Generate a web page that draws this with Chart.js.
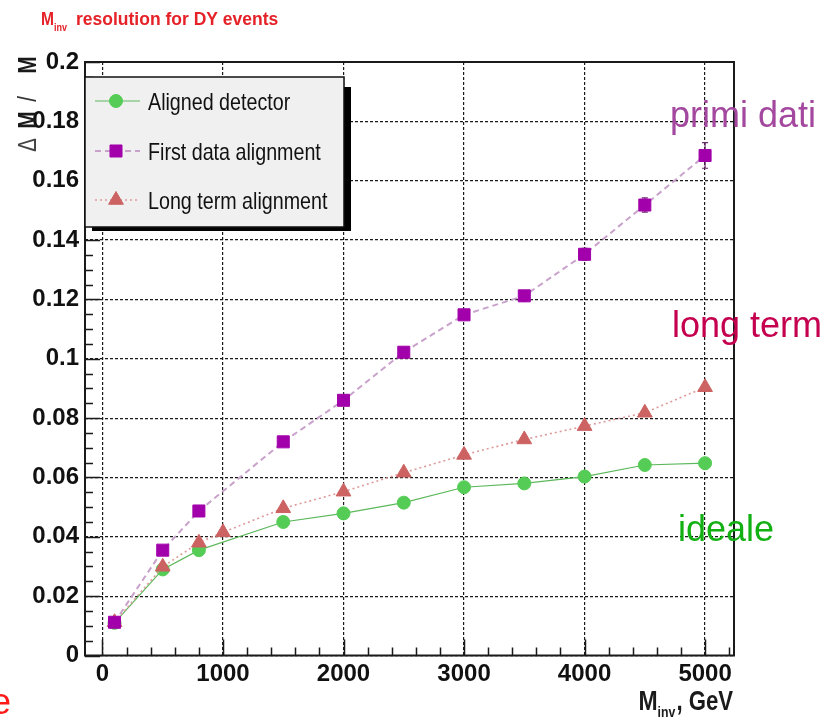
<!DOCTYPE html>
<html>
<head>
<meta charset="utf-8">
<script src="https://cdn.jsdelivr.net/npm/chart.js@4/dist/chart.umd.min.js"></script>
<style>
  html, body { margin: 0; padding: 0; background: #ffffff; }
  canvas { display: block; }
</style>
</head>
<body>
<canvas id="c" width="840" height="718"></canvas>
<script>
// Invariant mass (GeV) and relative mass resolution for each alignment scenario
const massAligned = [100, 500, 800, 1500, 2000, 2500, 3000, 3500, 4000, 4500, 5000];
const resAligned  = [0.0110, 0.0290, 0.0355, 0.0450, 0.0479, 0.0515, 0.0567, 0.0580, 0.0603, 0.0642, 0.0648];

const massFirst   = [100, 500, 800, 1500, 2000, 2500, 3000, 3500, 4000, 4500, 5000];
const resFirst    = [0.0112, 0.0355, 0.0487, 0.0720, 0.0860, 0.1022, 0.1148, 0.1212, 0.1352, 0.1518, 0.1685];
const errFirst    = [0.0006, 0.0008, 0.0010, 0.0012, 0.0013, 0.0015, 0.0016, 0.0018, 0.0020, 0.0024, 0.0043];

const massLong    = [100, 500, 800, 1000, 1500, 2000, 2500, 3000, 3500, 4000, 4500, 5000];
const resLong     = [0.0112, 0.0299, 0.0380, 0.0415, 0.0496, 0.0552, 0.0616, 0.0676, 0.0728, 0.0773, 0.0818, 0.0904];

const seriesNames = ['Aligned detector', 'First data alignment', 'Long term alignment'];

const xTickValues = [0, 1000, 2000, 3000, 4000, 5000];
const xTickLabels = ['0', '1000', '2000', '3000', '4000', '5000'];
const yTickValues = [0, 0.02, 0.04, 0.06, 0.08, 0.1, 0.12, 0.14, 0.16, 0.18, 0.2];
const yTickLabels = ['0', '0.02', '0.04', '0.06', '0.08', '0.1', '0.12', '0.14', '0.16', '0.18', '0.2'];

const NARROW = "'Liberation Sans Narrow', 'Liberation Sans', Arial, sans-serif";
const SANS = "'Liberation Sans', Arial, sans-serif";

const toPoints = (xs, ys) => xs.map((x, i) => ({ x: x, y: ys[i] }));

const styles = [
  { line: '#5cb85c', fill: '#55cc55', shape: 'circle',   radius: 6.5, dash: [],     width: 1.2 },
  { line: '#c9a2cc', fill: '#a200aa', shape: 'rect',     radius: 8.5, dash: [6, 4], width: 2   },
  { line: '#dd9a9a', fill: '#cc6262', shape: 'triangle', radius: 8.5, dash: [2, 3], width: 1.6 }
];

// Narrow face may be missing: fall back to a horizontally squeezed regular face.
let narrowAvailable = true;
(function () {
  const c = document.createElement('canvas').getContext('2d');
  c.font = "24px 'Liberation Sans Narrow', monospace";
  const a = c.measureText('Aligned detector').width;
  c.font = '24px monospace';
  const b = c.measureText('Aligned detector').width;
  narrowAvailable = Math.abs(a - b) > 0.5;
})();

function narrowText(ctx, text, x, y, size, weight, color, align) {
  ctx.save();
  ctx.fillStyle = color;
  ctx.textBaseline = 'alphabetic';
  if (narrowAvailable) {
    ctx.font = `${weight} ${size}px 'Liberation Sans Narrow'`;
    ctx.textAlign = align || 'left';
    ctx.fillText(text, x, y);
  } else {
    ctx.font = `${weight} ${size}px ${SANS}`;
    ctx.textAlign = align || 'left';
    ctx.translate(x, y);
    ctx.scale(0.82, 1);
    ctx.fillText(text, 0, 0);
  }
  ctx.restore();
}
function narrowWidth(ctx, text, size, weight) {
  ctx.save();
  let w;
  if (narrowAvailable) {
    ctx.font = `${weight} ${size}px 'Liberation Sans Narrow'`;
    w = ctx.measureText(text).width;
  } else {
    ctx.font = `${weight} ${size}px ${SANS}`;
    w = ctx.measureText(text).width * 0.82;
  }
  ctx.restore();
  return w;
}

function drawMarker(ctx, st, x, y) {
  ctx.save();
  ctx.fillStyle = st.fill;
  ctx.strokeStyle = st.fill;
  ctx.lineWidth = 1;
  ctx.setLineDash([]);
  Chart.helpers.drawPoint(ctx, { pointStyle: st.shape, radius: st.radius, borderWidth: 1, rotation: 0 }, x, y);
  ctx.restore();
}

const decorations = {
  id: 'decorations',
  beforeDatasetsDraw(chart) {
    // vertical error bars on the first-data points
    const ctx = chart.ctx, xs = chart.scales.x, ys = chart.scales.y;
    ctx.save();
    ctx.strokeStyle = '#6a2a6a';
    ctx.lineWidth = 1.2;
    massFirst.forEach((m, i) => {
      const px = xs.getPixelForValue(m);
      const y1 = ys.getPixelForValue(resFirst[i] - errFirst[i]);
      const y2 = ys.getPixelForValue(resFirst[i] + errFirst[i]);
      ctx.beginPath();
      ctx.moveTo(px, y1); ctx.lineTo(px, y2);
      ctx.moveTo(px - 3, y1); ctx.lineTo(px + 3, y1);
      ctx.moveTo(px - 3, y2); ctx.lineTo(px + 3, y2);
      ctx.stroke();
    });
    ctx.restore();
  },
  afterDatasetsDraw(chart) {
    const ctx = chart.ctx, a = chart.chartArea, xs = chart.scales.x, ys = chart.scales.y;
    ctx.save();
    ctx.strokeStyle = '#1a1a1a';
    ctx.setLineDash([]);

    // tick marks pointing into the frame
    ctx.lineWidth = 1.5;
    ctx.beginPath();
    for (let i = 0; i <= 40; i++) {
      const py = Math.round(ys.getPixelForValue(i * 0.005)) + 0.5;
      const len = (i % 4 === 0) ? 15 : 8;
      ctx.moveTo(a.left, py); ctx.lineTo(a.left + len, py);
    }
    for (let i = 0; i <= 26; i++) {
      const px = Math.round(xs.getPixelForValue(i * 200)) + 0.5;
      const len = (i % 5 === 0) ? 16 : 8;
      ctx.moveTo(px, a.bottom); ctx.lineTo(px, a.bottom - len);
    }
    ctx.stroke();

    // frame
    ctx.lineWidth = 2;
    ctx.strokeRect(a.left, a.top, a.right - a.left, a.bottom - a.top);

    // legend box with drop shadow
    const lx0 = 85, ly0 = 77, lx1 = 344, ly1 = 227;
    ctx.fillStyle = '#000000';
    ctx.fillRect(lx0 + 7, ly0 + 10, lx1 - lx0, ly1 - ly0 - 6);
    ctx.fillStyle = '#f0f0f0';
    ctx.fillRect(lx0, ly0, lx1 - lx0, ly1 - ly0);
    ctx.lineWidth = 1.5;
    ctx.strokeStyle = '#111111';
    ctx.strokeRect(lx0, ly0, lx1 - lx0, ly1 - ly0);

    const rows = [101, 151, 200];
    seriesNames.forEach((name, i) => {
      const st = styles[i], yy = rows[i];
      ctx.save();
      ctx.strokeStyle = st.line;
      ctx.lineWidth = st.width;
      ctx.setLineDash(st.dash);
      ctx.beginPath();
      ctx.moveTo(95, yy); ctx.lineTo(140, yy);
      ctx.stroke();
      ctx.restore();
      drawMarker(ctx, st, 116, yy);
      narrowText(ctx, name, 148, yy + 8.5, 24, 'normal', '#111111', 'left');
    });

    // heading
    narrowText(ctx, 'M', 41, 25, 19, 'bold', '#e52228', 'left');
    narrowText(ctx, 'inv', 54, 31, 11, 'bold', '#e52228', 'left');
    ctx.save();
    ctx.font = `bold 17.5px ${SANS}`;
    ctx.fillStyle = '#e52228';
    ctx.textBaseline = 'alphabetic';
    ctx.fillText('resolution for DY events', 76, 25);
    ctx.restore();

    // y-axis title, rotated
    const yParts = [['M', 65, 'bold', '#1a1a1a'], ['/', 99, 'normal', '#333333'], ['M', 120, 'bold', '#1a1a1a'], ['\u0394', 145, 'normal', '#444444']];
    yParts.forEach(p => {
      ctx.save();
      ctx.translate(36, p[1]);
      ctx.rotate(-Math.PI / 2);
      narrowText(ctx, p[0], 0, 0, 25, p[2], p[3], 'center');
      ctx.restore();
    });

    // x-axis title, right-aligned to the frame
    const gev = ', GeV';
    const wG = narrowWidth(ctx, gev, 27, 'bold');
    const wI = narrowWidth(ctx, 'inv', 15, 'bold');
    const xr = 733;
    narrowText(ctx, gev, xr, 710, 27, 'bold', '#1a1a1a', 'right');
    narrowText(ctx, 'inv', xr - wG - wI - 1, 717, 15, 'bold', '#1a1a1a', 'left');
    narrowText(ctx, 'M', xr - wG - wI - 1, 710, 28, 'bold', '#1a1a1a', 'right');

    // scenario captions
    ctx.font = `36px ${SANS}`;
    ctx.textBaseline = 'alphabetic';
    ctx.textAlign = 'left';
    ctx.fillStyle = '#a3479f'; ctx.fillText('primi dati', 670, 127);
    ctx.fillStyle = '#c4004f'; ctx.fillText('long term', 672, 337);
    ctx.fillStyle = '#12b012'; ctx.fillText('ideale', 678, 541);
    ctx.fillStyle = '#ff1a1a'; ctx.fillText('e', -9, 714);
    ctx.restore();
  }
};

const makeDataset = (i, xs, ys, order) => ({
  label: seriesNames[i],
  data: toPoints(xs, ys),
  showLine: true,
  borderColor: styles[i].line,
  borderWidth: styles[i].width,
  borderDash: styles[i].dash,
  backgroundColor: styles[i].fill,
  pointBackgroundColor: styles[i].fill,
  pointBorderColor: styles[i].fill,
  pointBorderWidth: 1,
  pointStyle: styles[i].shape,
  pointRadius: styles[i].radius,
  tension: 0,
  fill: false,
  order: order
});

new Chart(document.getElementById('c'), {
  type: 'line',
  data: {
    datasets: [
      makeDataset(0, massAligned, resAligned, 3),
      makeDataset(2, massLong, resLong, 2),
      makeDataset(1, massFirst, resFirst, 1)
    ]
  },
  options: {
    responsive: false,
    animation: false,
    devicePixelRatio: 1,
    layout: { padding: { left: 0, right: 106, top: 62, bottom: 0 } },
    plugins: { legend: { display: false }, tooltip: { enabled: false } },
    scales: {
      x: {
        type: 'linear',
        min: -145,
        max: 5240,
        afterBuildTicks: s => { s.ticks = xTickValues.map(v => ({ value: v })); },
        afterFit: s => { s.height = 62.5; },
        ticks: {
          callback: v => xTickLabels[xTickValues.indexOf(v)],
          font: { family: NARROW, size: 24, weight: 'bold' },
          color: '#111111',
          padding: 4,
          maxRotation: 0,
          autoSkip: false
        },
        grid: { color: '#1a1a1a', lineWidth: 1.2, drawTicks: false },
        border: { display: false, dash: [3, 2] }
      },
      y: {
        min: 0,
        max: 0.2,
        afterBuildTicks: s => { s.ticks = yTickValues.map(v => ({ value: v })); },
        afterFit: s => { s.width = 85; },
        ticks: {
          callback: v => yTickLabels[yTickValues.indexOf(v)],
          font: { family: NARROW, size: 24, weight: 'bold' },
          color: '#111111',
          padding: 6,
          autoSkip: false
        },
        grid: { color: '#1a1a1a', lineWidth: 1.2, drawTicks: false },
        border: { display: false, dash: [3, 2] }
      }
    }
  },
  plugins: [decorations]
});
</script>
</body>
</html>
